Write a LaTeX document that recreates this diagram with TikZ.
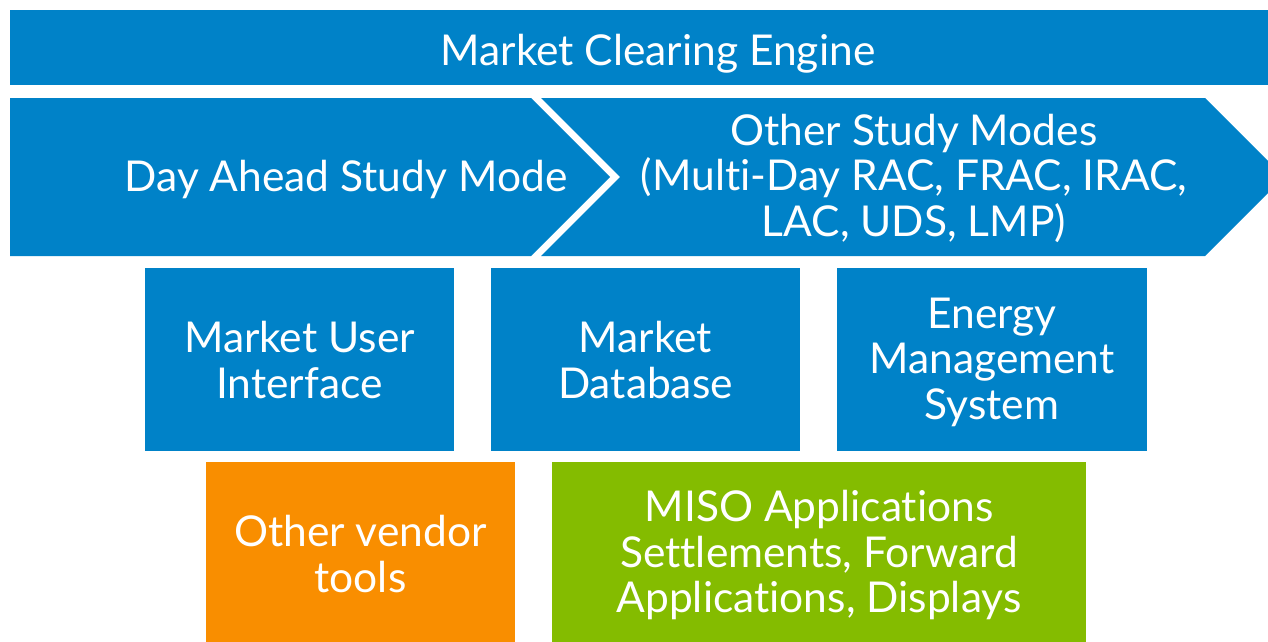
\documentclass[tikz,border=0pt]{standalone}
\usepackage{fontspec}
\setmainfont[Ligatures={NoCommon}]{Lato}
\definecolor{mblue}{HTML}{0082C8}
\definecolor{morange}{HTML}{F98E00}
\definecolor{mgreen}{HTML}{84BC00}
\begin{document}
\begin{tikzpicture}[x=1pt,y=-1pt,
  lbl/.style={text=white,align=center,font=\fontsize{42.5}{45.5}\selectfont,inner sep=0pt}]
\useasboundingbox (0,0) rectangle (1268,641);
\clip (0,0) rectangle (1268,641);
% top bar
\fill[mblue] (10,10) rectangle (1268,85);
\node[lbl] (mce) at (658,54) {Market Clearing Engine};
% study-mode chevrons
\fill[mblue] (10,98) -- (531,98) -- (610,177) -- (531,256) -- (10,256) -- cycle;
\fill[mblue] (541,98) -- (1205,98) -- (1284,177) -- (1205,256) -- (541,256) -- (620,177) -- cycle;
\node[lbl] (da) at (346,179) {Day Ahead Study Mode};
\node[lbl] (osm) at (914,178) {Other Study Modes\\(Multi-Day RAC, FRAC, IRAC,\\LAC, UDS, LMP)};
% middle row
\fill[mblue] (145,268) rectangle (454,451);
\fill[mblue] (491,268) rectangle (800,451);
\fill[mblue] (837,268) rectangle (1147,451);
\node[lbl] (mui) at (299.5,360) {Market User\\Interface};
\node[lbl] (mdb) at (645.5,360) {Market\\Database};
\node[lbl] (ems) at (992,362) {Energy\\Management\\System};
% bottom row
\fill[morange] (206,462) rectangle (515,645);
\fill[mgreen] (552,462) rectangle (1086,645);
\node[lbl] (ovt) at (360.5,554) {Other vendor\\tools};
\node[lbl] (miso) at (819,555) {MISO Applications\\Settlements, Forward\\Applications, Displays};
\end{tikzpicture}
\end{document}
